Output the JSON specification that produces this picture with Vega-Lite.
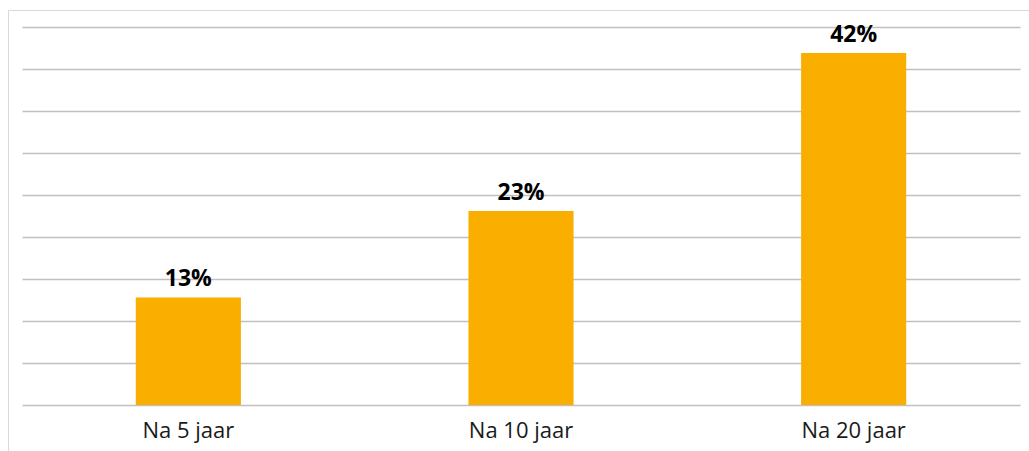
{
  "$schema": "https://vega.github.io/schema/vega-lite/v6.json",
  "width": 1021,
  "height": 441,
  "autosize": {"type": "none"},
  "padding": {"left": 8, "top": 10, "right": 0, "bottom": 0},
  "background": "white",
  "config": {
    "view": {"stroke": "#d9d9d9", "strokeWidth": 1, "strokeDash": [1021, 1462, 441]},
    "font": "Open Sans"
  },
  "data": {
    "values": [
      {"period": "Na 5 jaar", "value": 12.8, "label": "13%"},
      {"period": "Na 10 jaar", "value": 23.1, "label": "23%"},
      {"period": "Na 20 jaar", "value": 41.9, "label": "42%"}
    ]
  },
  "encoding": {
    "x": {
      "field": "period",
      "type": "nominal",
      "sort": null,
      "scale": {"range": [14, 1012], "paddingInner": 0.684, "paddingOuter": 0.342},
      "axis": {
        "title": null,
        "labelAngle": 0,
        "ticks": false,
        "domain": false,
        "grid": false,
        "offset": -46,
        "labelPadding": 15,
        "labelFontSize": 22,
        "labelFont": "Open Sans",
        "labelColor": "#1a1a1a"
      }
    },
    "y": {
      "field": "value",
      "type": "quantitative",
      "scale": {"domain": [0, 45], "range": [395, 17], "nice": false, "zero": true},
      "axis": {
        "title": null,
        "labels": false,
        "ticks": false,
        "domain": false,
        "grid": true,
        "values": [0, 5, 10, 15, 20, 25, 30, 35, 40, 45],
        "gridColor": "#c0c0c0",
        "gridWidth": 1.5
      }
    }
  },
  "layer": [
    {"mark": {"type": "bar", "color": "#F9AE00"}},
    {
      "mark": {"type": "text", "dy": -11, "baseline": "alphabetic", "fontSize": 23, "fontWeight": "bold", "font": "Open Sans", "color": "#000000"},
      "encoding": {"text": {"field": "label"}}
    }
  ]
}
